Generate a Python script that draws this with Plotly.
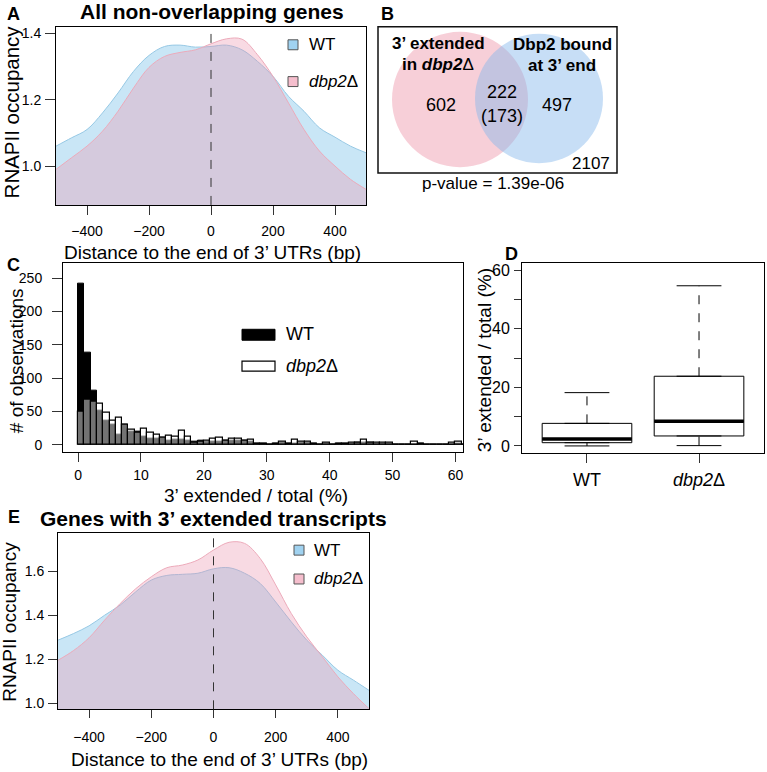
import plotly.graph_objects as go

W, H = 767, 772
FONT = "Arial, Liberation Sans, sans-serif"


def px(x):
    return x / W


def py(y):
    return 1 - y / H


# ---------------- data ----------------
# Panels A and E: distance to end of 3' UTR (bp)
positions = list(range(-500, 501, 50))
a_wt = [1.06, 1.085, 1.11, 1.16, 1.22, 1.285, 1.333, 1.36, 1.364, 1.358, 1.36,
        1.364, 1.35, 1.315, 1.27, 1.21, 1.165, 1.115, 1.087, 1.06, 1.04]
a_dbp2 = [0.99, 1.025, 1.06, 1.105, 1.165, 1.235, 1.297, 1.33, 1.342, 1.35, 1.368,
          1.383, 1.382, 1.335, 1.27, 1.19, 1.11, 1.045, 1.0, 0.96, 0.93]
e_wt = [1.287, 1.317, 1.352, 1.40, 1.446, 1.506, 1.559, 1.58, 1.585, 1.59, 1.61,
        1.615, 1.59, 1.544, 1.46, 1.37, 1.287, 1.219, 1.151, 1.106, 1.06]
e_dbp2 = [1.196, 1.24, 1.298, 1.378, 1.453, 1.52, 1.574, 1.615, 1.627, 1.65, 1.695,
          1.73, 1.725, 1.657, 1.537, 1.408, 1.302, 1.212, 1.121, 1.045, 0.977]

# Panel B: Venn counts
venn_left_only = "602"
venn_overlap = "222"
venn_overlap_expected = "(173)"
venn_right_only = "497"
venn_outside = "2107"
venn_pvalue = "p-value = 1.39e-06"

# Panel C: histogram (bins of width 1, left edges 0..61)
bin_left = list(range(0, 62))
c_wt = [241, 139, 82, 52, 37, 30, 16, 31, 20, 20, 12, 10, 9, 11, 6, 8, 8, 6, 5, 6,
        5, 5, 5, 7, 6, 7, 7, 5, 2, 2, 1, 2, 3, 2, 2, 4, 3, 2, 1, 2,
        1, 2, 2, 2, 3, 3, 3, 2, 2, 2, 1, 1, 1, 1, 2, 0, 1, 1, 0, 1, 2, 1]
c_dbp2 = [50, 68, 65, 62, 49, 36, 41, 30, 23, 19, 25, 18, 16, 11, 14, 13, 21, 13, 3, 5,
          7, 9, 11, 7, 9, 10, 7, 8, 2, 2, 1, 2, 5, 2, 8, 5, 5, 2, 1, 4,
          1, 2, 2, 3, 4, 8, 4, 3, 3, 3, 1, 1, 1, 5, 2, 0, 1, 1, 0, 4, 5, 1]

# Panel D: boxplot statistics
box_pos = [1, 2]
box_labels = ["WT", "<i>dbp2</i>\u0394"]
d_low = [0.0, 0.1]
d_q1 = [1.1, 3.4]
d_med = [2.4, 8.4]
d_q3 = [7.7, 23.8]
d_high = [18.2, 54.7]

# ---------------- colours ----------------
WT_FILL = "rgba(135,200,235,0.45)"
WT_LINE = "rgb(150,200,228)"
KO_FILL = "rgba(235,150,175,0.35)"
KO_LINE = "rgb(236,170,186)"

fig = go.Figure()

# ---- Panel A ----
fig.add_trace(go.Scatter(x=positions, y=a_wt, mode="lines", fill="tozeroy",
                         fillcolor=WT_FILL, line=dict(color=WT_LINE, width=1, shape="spline"),
                         xaxis="x", yaxis="y", showlegend=False))
fig.add_trace(go.Scatter(x=positions, y=a_dbp2, mode="lines", fill="tozeroy",
                         fillcolor=KO_FILL, line=dict(color=KO_LINE, width=1, shape="spline"),
                         xaxis="x", yaxis="y", showlegend=False))

# ---- Panel C ----
centers = [b + 0.5 for b in bin_left]
fig.add_trace(go.Bar(x=centers, y=c_wt, width=1, marker=dict(color="black", line=dict(color="black", width=1)),
                     xaxis="x2", yaxis="y2", showlegend=False))
fig.add_trace(go.Bar(x=centers, y=c_dbp2, width=1,
                     marker=dict(color="rgba(255,255,255,0.45)", line=dict(color="black", width=1.2)),
                     xaxis="x2", yaxis="y2", showlegend=False))

# ---- Panel D ----
for i in range(2):
    fig.add_trace(go.Box(x=[box_pos[i]], q1=[d_q1[i]], median=[d_med[i]], q3=[d_q3[i]],
                         lowerfence=[d_q1[i]], upperfence=[d_q3[i]], width=0.8,
                         fillcolor="white", line=dict(color="black", width=1),
                         xaxis="x3", yaxis="y3", showlegend=False, hoverinfo="skip"))
    # dashed whiskers
    fig.add_trace(go.Scatter(x=[box_pos[i], box_pos[i]], y=[d_q3[i], d_high[i]], mode="lines",
                             line=dict(color="black", width=1, dash="dash"),
                             xaxis="x3", yaxis="y3", showlegend=False))
    fig.add_trace(go.Scatter(x=[box_pos[i], box_pos[i]], y=[d_low[i], d_q1[i]], mode="lines",
                             line=dict(color="black", width=1, dash="dash"),
                             xaxis="x3", yaxis="y3", showlegend=False))
    # caps
    for v in (d_low[i], d_high[i]):
        fig.add_trace(go.Scatter(x=[box_pos[i] - 0.2, box_pos[i] + 0.2], y=[v, v], mode="lines",
                                 line=dict(color="black", width=1),
                                 xaxis="x3", yaxis="y3", showlegend=False))
    # thick median
    fig.add_trace(go.Scatter(x=[box_pos[i] - 0.4, box_pos[i] + 0.4], y=[d_med[i], d_med[i]], mode="lines",
                             line=dict(color="black", width=3.5),
                             xaxis="x3", yaxis="y3", showlegend=False))

# ---- Panel E ----
fig.add_trace(go.Scatter(x=positions, y=e_wt, mode="lines", fill="tozeroy",
                         fillcolor=WT_FILL, line=dict(color=WT_LINE, width=1, shape="spline"),
                         xaxis="x4", yaxis="y4", showlegend=False))
fig.add_trace(go.Scatter(x=positions, y=e_dbp2, mode="lines", fill="tozeroy",
                         fillcolor=KO_FILL, line=dict(color=KO_LINE, width=1, shape="spline"),
                         xaxis="x4", yaxis="y4", showlegend=False))

axis_common = dict(showline=True, mirror=True, linecolor="black", linewidth=1,
                   ticks="outside", tickcolor="#333", showgrid=False, zeroline=False,
                   tickfont=dict(family=FONT, size=14, color="black"))

fig.update_layout(
    width=W, height=H, margin=dict(l=0, r=0, t=0, b=0),
    paper_bgcolor="white", plot_bgcolor="white",
    barmode="overlay", bargap=0,
    font=dict(family=FONT, color="black"),
    xaxis=dict(axis_common, domain=[px(56), px(366)], range=[-500, 500],
               tickvals=[-400, -200, 0, 200, 400], ticklen=9, ticklabelstandoff=4),
    yaxis=dict(axis_common, domain=[py(204), py(25)], range=[0.883, 1.419],
               tickvals=[1.0, 1.2, 1.4], tickformat=".1f", ticklen=10, ticklabelstandoff=1),
    xaxis2=dict(axis_common, domain=[px(63), px(463)], range=[-2.4, 61.2], anchor="y2",
                tickvals=[0, 10, 20, 30, 40, 50, 60], ticklen=9, ticklabelstandoff=2),
    yaxis2=dict(axis_common, domain=[py(452), py(262)], range=[-10, 273], anchor="x2",
                tickvals=[0, 50, 100, 150, 200, 250], ticklen=10, ticklabelstandoff=7),
    xaxis3=dict(axis_common, domain=[px(522), px(764)], range=[0.42, 2.58], anchor="y3",
                tickvals=box_pos, ticktext=box_labels, ticklen=9, ticklabelstandoff=2,
                tickfont=dict(family=FONT, size=18, color="black")),
    yaxis3=dict(axis_common, domain=[py(453), py(262)], range=[-2.3, 62.6], anchor="x3",
                tickvals=[0, 10, 20, 30, 40, 50, 60], ticktext=["0", "", "20", "", "40", "", "60"],
                ticklen=7, ticklabelstandoff=1, tickfont=dict(family=FONT, size=16, color="black")),
    xaxis4=dict(axis_common, domain=[px(58), px(369)], range=[-500, 500], anchor="y4",
                tickvals=[-400, -200, 0, 200, 400], ticklen=8, ticklabelstandoff=7),
    yaxis4=dict(axis_common, domain=[py(711), py(534)], range=[0.974, 1.771], anchor="x4",
                tickvals=[1.0, 1.2, 1.4, 1.6], tickformat=".1f", ticklen=9, ticklabelstandoff=1),
)

shapes = []
# dashed zero lines
for xr, yr in (("x", "y domain"), ("x4", "y4 domain")):
    shapes.append(dict(type="line", xref=xr, yref=yr, x0=0, x1=0, y0=0, y1=1,
                       line=dict(color="#333", width=1, dash="dash")))


# legends A and E (squares)
def legend_squares(x0, y_wt, y_ko):
    out = []
    for yc, col in ((y_wt, "rgb(160,210,240)"), (y_ko, "rgb(245,190,205)")):
        out.append(dict(type="rect", xref="paper", yref="paper", x0=px(x0), x1=px(x0 + 10),
                        y0=py(yc + 5), y1=py(yc - 5), fillcolor=col, line=dict(color="#555", width=1)))
    return out


shapes += legend_squares(288, 43, 80)
shapes += legend_squares(294, 551, 580)

# legend C
shapes.append(dict(type="rect", xref="paper", yref="paper", x0=px(242), x1=px(275), y0=py(340), y1=py(329),
                   fillcolor="black", line=dict(color="black", width=1)))
shapes.append(dict(type="rect", xref="paper", yref="paper", x0=px(242), x1=px(275), y0=py(371), y1=py(361),
                   fillcolor="white", line=dict(color="black", width=1.2)))

# Venn B
shapes.append(dict(type="circle", xref="paper", yref="paper", x0=px(392), x1=px(528), y0=py(166), y1=py(30),
                   fillcolor="rgba(233,130,152,0.38)", line=dict(width=0)))
shapes.append(dict(type="circle", xref="paper", yref="paper", x0=px(475), x1=px(603), y0=py(162), y1=py(32),
                   fillcolor="rgba(131,182,235,0.45)", line=dict(width=0)))
shapes.append(dict(type="rect", xref="paper", yref="paper", x0=px(378), x1=px(617), y0=py(172), y1=py(25),
                   fillcolor="rgba(0,0,0,0)", line=dict(color="#111", width=1.5)))

fig.update_layout(shapes=shapes)

ann = []


def text(x, y, s, size, bold=False, xanchor="center", angle=0):
    if bold:
        s = "<b>" + s + "</b>"
    ann.append(dict(x=px(x), y=py(y), xref="paper", yref="paper", text=s, showarrow=False,
                    xanchor=xanchor, yanchor="middle", textangle=angle,
                    font=dict(family=FONT, size=size, color="black")))


# panel letters
text(5, 12, "A", 18, bold=True, xanchor="left")
text(379, 12, "B", 18, bold=True, xanchor="left")
text(5, 264, "C", 18, bold=True, xanchor="left")
text(503, 253, "D", 18, bold=True, xanchor="left")
text(6, 518, "E", 18, bold=True, xanchor="left")

# A
text(212, 10, "All non-overlapping genes", 21, bold=True)
text(212, 252, "Distance to the end of 3\u2019 UTRs (bp)", 19)
text(11, 111, "RNAPII occupancy", 20.5, angle=-90)
text(307, 43, "WT", 17, xanchor="left")
text(307, 80, "<i>dbp2</i>\u0394", 17, xanchor="left")

# B
text(438, 42, "3\u2019 extended", 17, bold=True)
text(438, 63, "<b>in <i>dbp2</i></b>\u0394", 17)
text(562, 43, "Dbp2 bound", 17, bold=True)
text(562, 64, "at 3\u2019 end", 17, bold=True)
text(441, 104, venn_left_only, 18)
text(502, 90, venn_overlap, 18)
text(502, 115, venn_overlap_expected, 18)
text(557, 104, venn_right_only, 18)
text(612, 162, venn_outside, 17, xanchor="right")
text(493, 182, venn_pvalue, 17)

# C
text(16, 361, "# of observations", 19, angle=-90)
text(256, 496, "3\u2019 extended / total (%)", 19)
text(284, 334, "WT", 18, xanchor="left")
text(284, 366, "<i>dbp2</i>\u0394", 18, xanchor="left")

# D
text(484, 360, "3\u2019 extended / total (%)", 19, angle=-90)

# E
text(213, 519, "Genes with 3\u2019 extended transcripts", 21, bold=True)
text(219, 761, "Distance to the end of 3\u2019 UTRs (bp)", 19)
text(10, 623, "RNAPII occupancy", 19, angle=-90)
text(312, 551, "WT", 17, xanchor="left")
text(312, 580, "<i>dbp2</i>\u0394", 17, xanchor="left")

fig.update_layout(annotations=ann)

fig.write_html("out.html", config={"displayModeBar": False},
               post_script="document.body.style.margin='0';document.body.style.overflow='hidden';")
